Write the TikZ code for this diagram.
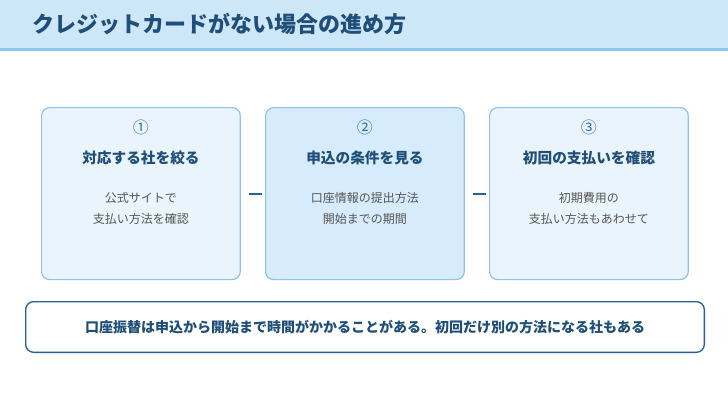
\documentclass[tikz,border=0pt]{standalone}
\usepackage{fontspec}
\setmainfont{Noto Sans CJK JP}
\newfontfamily\cjkb{Noto Sans CJK JP}[BoldFont={* Bold}]
\definecolor{barfill}{HTML}{CDE6F8}
\definecolor{barline}{HTML}{8EC6EE}
\definecolor{ttl}{HTML}{1F4E79}
\definecolor{bfill}{HTML}{EAF4FD}
\definecolor{bfill2}{HTML}{D6EBFB}
\definecolor{bline}{HTML}{8CC4EA}
\definecolor{dk}{HTML}{2A5F94}
\definecolor{num}{HTML}{2F6EA8}
\definecolor{txt}{HTML}{555555}
\begin{document}
\begin{tikzpicture}[x=0.75pt,y=-0.75pt,
  card/.style={draw=bline,line width=0.9pt,rounded corners=6pt,minimum width=149pt,minimum height=129pt,anchor=north west},
  numl/.style={text=num,font=\fontsize{12}{14}\selectfont},
  head/.style={text=ttl,font=\bfseries\fontsize{11}{13}\selectfont},
  body/.style={text=txt,font=\fontsize{9}{16}\selectfont,align=center},
  conn/.style={draw=dk,line width=1.5pt}]
\useasboundingbox (0,0) rectangle (728,410);
\fill[white] (0,0) rectangle (728,410);
\fill[barfill] (0,0) rectangle (728,49);
\fill[barline] (0,48) rectangle (728,51);
\node[anchor=west,text=ttl,font=\bfseries\fontsize{16.5}{20}\selectfont] (title) at (28,24) {クレジットカードがない場合の進め方};
\node[card,fill=bfill] (c1) at (41,107) {};
\node[card,fill=bfill2] (c2) at (265,107) {};
\node[card,fill=bfill] (c3) at (489,107) {};
\foreach \i/\n/\h/\b in {1/①/対応する社を絞る/公式サイトで\\支払い方法を確認,2/②/申込の条件を見る/口座情報の提出方法\\開始までの期間,3/③/初回の支払いを確認/初期費用の\\支払い方法もあわせて}{
  \node[numl] (n\i) at ([yshift=-15pt]c\i.north) {\n};
  \node[head] (h\i) at ([yshift=-38pt]c\i.north) {\h};
  \node[body] (b\i) at ([yshift=-76pt]c\i.north) {\b};
}
\draw[conn] ([xshift=6pt]c1.east) -- ([xshift=-2pt]c2.west);
\draw[conn] ([xshift=6pt]c2.east) -- ([xshift=-2pt]c3.west);
\node[draw=dk,line width=1pt,fill=white,rounded corners=6pt,minimum width=509pt,minimum height=38pt,anchor=north west,text=ttl,font=\bfseries\fontsize{10.5}{13}\selectfont] (note) at (25,301) {口座振替は申込から開始まで時間がかかることがある。初回だけ別の方法になる社もある};
\end{tikzpicture}
\end{document}
